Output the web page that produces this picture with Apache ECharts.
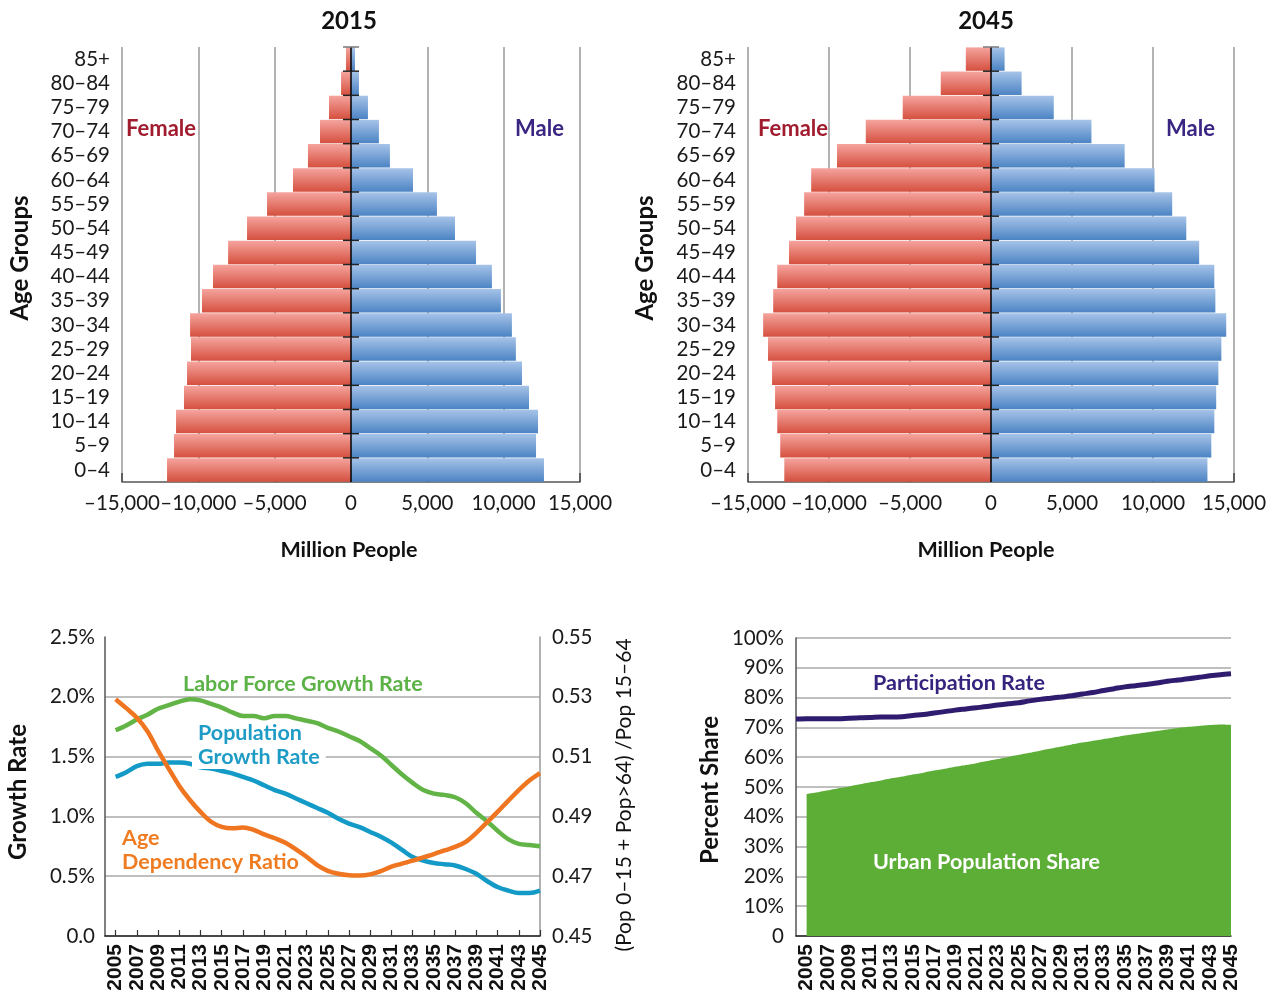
<!DOCTYPE html>
<html>
<head>
<meta charset="utf-8">
<script src="https://cdn.jsdelivr.net/npm/echarts@6/dist/echarts.min.js"></script>
<style>
html,body{margin:0;padding:0;background:#fff;}
#chart{width:1270px;height:998px;}
</style>
</head>
<body>
<div id="chart"></div>
<script>
// ---------- DATA ----------
const ageGroups = ['0–4','5–9','10–14','15–19','20–24','25–29','30–34','35–39','40–44','45–49','50–54','55–59','60–64','65–69','70–74','75–79','80–84','85+'];
const female2015 = [-12050,-11590,-11460,-10940,-10740,-10480,-10540,-9760,-9040,-8050,-6810,-5500,-3800,-2820,-2030,-1440,-650,-330];
const male2015   = [12640,12120,12250,11660,11200,10800,10540,9820,9230,8190,6810,5630,4060,2550,1830,1110,520,260];
const female2045 = [-12760,-13010,-13195,-13330,-13515,-13765,-14065,-13445,-13195,-12470,-12035,-11535,-11100,-9505,-7730,-5450,-3100,-1555];
const male2045   = [13360,13600,13785,13900,14035,14220,14520,13850,13785,12850,12055,11185,10095,8250,6200,3875,1890,840];
const popTicks = [-15000,-10000,-5000,0,5000,10000,15000];

const years = ['2004','2005','2006','2007','2008','2009','2010','2011','2012','2013','2014','2015','2016','2017','2018','2019','2020','2021','2022','2023','2024','2025','2026','2027','2028','2029','2030','2031','2032','2033','2034','2035','2036','2037','2038','2039','2040','2041','2042','2043','2044','2045'];
const laborGrowth = [null,1.72,1.76,1.81,1.85,1.90,1.93,1.96,1.98,1.97,1.94,1.91,1.87,1.84,1.84,1.82,1.84,1.84,1.82,1.80,1.78,1.74,1.71,1.67,1.63,1.57,1.51,1.43,1.35,1.28,1.22,1.19,1.18,1.16,1.11,1.03,0.96,0.88,0.81,0.77,0.76,0.75];
const popGrowth = [null,1.33,1.37,1.42,1.44,1.44,1.45,1.45,1.44,1.41,1.40,1.38,1.36,1.33,1.30,1.26,1.22,1.19,1.15,1.11,1.07,1.03,0.98,0.94,0.91,0.87,0.83,0.78,0.72,0.66,0.63,0.61,0.60,0.59,0.56,0.52,0.46,0.41,0.38,0.36,0.36,0.38];
const ageDependency = [null,0.5292,0.5262,0.5230,0.5185,0.5120,0.5060,0.5002,0.4955,0.4915,0.4882,0.4865,0.4860,0.4863,0.4855,0.4840,0.4827,0.4812,0.4790,0.4765,0.4737,0.4718,0.4708,0.4703,0.4702,0.4706,0.4717,0.4732,0.4742,0.4752,0.4763,0.4774,0.4786,0.4798,0.4815,0.4845,0.4880,0.4915,0.4952,0.4988,0.5020,0.5045];
const participation = [72.8,72.9,72.9,72.9,72.9,73.1,73.2,73.3,73.5,73.5,73.6,74.0,74.3,74.8,75.3,75.8,76.2,76.6,77.0,77.5,77.9,78.3,78.9,79.4,79.8,80.2,80.6,81.2,81.7,82.4,83.0,83.6,84.0,84.4,84.9,85.5,85.9,86.3,86.8,87.3,87.7,88.0];
const urbanShare = [null,47.6,48.2,48.9,49.6,50.2,50.9,51.6,52.2,52.9,53.5,54.2,54.8,55.5,56.1,56.8,57.4,58.0,58.7,59.4,60.1,60.8,61.5,62.2,62.9,63.6,64.3,64.9,65.5,66.1,66.7,67.3,67.8,68.3,68.8,69.3,69.8,70.2,70.5,70.8,71.0,70.9];

// ---------- HELPERS ----------
const FONT = 'Lato';
const TXT = '#1a1a1a';
function fmtPop(v){
  const s = String(Math.abs(v)).replace(/\B(?=(\d{3})+(?!\d))/g, ',');
  return (v < 0 ? '–' : '') + s;
}
const oddIdx = function(i){ return i % 2 === 1; };

function femaleGrad(){ return new echarts.graphic.LinearGradient(0,0,0,1,[{offset:0,color:'#f5a49e'},{offset:1,color:'#d5503f'}]); }
function maleGrad(){ return new echarts.graphic.LinearGradient(0,0,0,1,[{offset:0,color:'#a6c3e8'},{offset:1,color:'#4c84c4'}]); }

function pyrX(gi){
  return {gridIndex:gi, type:'value', min:popTicks[0], max:popTicks[popTicks.length-1], interval:5000,
    axisLine:{show:true, onZero:false, lineStyle:{color:'#555', width:1.5}},
    axisTick:{show:true, inside:true, length:9, lineStyle:{color:'#444', width:1.5}},
    splitLine:{show:true, lineStyle:{color:'#9a9a9a', width:1.5}},
    axisLabel:{formatter:fmtPop, fontFamily:FONT, fontSize:20.5, color:TXT, margin:11, hideOverlap:false}};
}
function pyrY(gi){
  return {gridIndex:gi, type:'category', data:ageGroups,
    axisLine:{show:false, onZero:false}, axisTick:{show:false}, splitLine:{show:false},
    axisLabel:{interval:0, fontFamily:FONT, fontSize:20.5, color:TXT, margin:12}};
}
function centerLine(xi, yi){
  return {type:'custom', xAxisIndex:xi, yAxisIndex:yi, z:5, silent:true,
    data: ageGroups.map(function(a,i){ return [0, i]; }),
    renderItem: function(params, api){
      const i = api.value(1);
      const p = api.coord([0, i]);
      const h = api.size([0, 1])[1];
      const top = p[1] - h/2, bot = p[1] + h/2;
      const last = i === ageGroups.length - 1;
      return {type:'group', children:[
        {type:'line', shape:{x1:p[0], y1:top, x2:p[0], y2:bot}, style:{stroke:'#000', lineWidth:1.5}},
        {type:'line', shape:{x1:p[0]-8, y1:top, x2:p[0]+8, y2:top}, style:{stroke:last?'#777':'#222', lineWidth:1.5}}
      ]};
    }};
}
function pyrBar(data, xi, yi, grad){
  return {type:'bar', xAxisIndex:xi, yAxisIndex:yi, data:data, barGap:'-100%', barCategoryGap:'3%',
    itemStyle:{color:grad}, silent:true};
}
function yearAxis(gi, ticks){
  return {gridIndex:gi, type:'category', data:years, boundaryGap:false,
    axisLine:{show:true, onZero:false, lineStyle:{color:'#222', width:1.5}},
    axisTick:{show:ticks, inside:true, length:6, interval:oddIdx, lineStyle:{color:'#333', width:1.2}},
    splitLine:{show:false},
    axisLabel:{interval:oddIdx, rotate:90, fontFamily:'Liberation Sans', fontWeight:'bold', fontSize:21, color:'#111', margin:8}};
}
function txt(x, y, text, font, color, extra){
  return {type:'text', x:x, y:y, z:100, silent:true,
    style:Object.assign({text:text, font:font, fill:color, align:'left', verticalAlign:'middle'}, extra||{})};
}
function rtxt(x, y, text, font, color){
  return {type:'text', x:x, y:y, rotation:Math.PI/2, z:100, silent:true,
    style:{text:text, font:font, fill:color, align:'center', verticalAlign:'middle'}};
}

const option = {
  animation:false,
  backgroundColor:'#fff',
  grid:[
    {left:122, top:47, width:458, height:435, outerBoundsMode:'none'},
    {left:748, top:47, width:486, height:435, outerBoundsMode:'none'},
    {left:105, top:637, width:435, height:299, outerBoundsMode:'none'},
    {left:796, top:638, width:435, height:298, outerBoundsMode:'none'}
  ],
  xAxis:[ pyrX(0), pyrX(1), yearAxis(2, true), yearAxis(3, false) ],
  yAxis:[
    pyrY(0), pyrY(1),
    {gridIndex:2, type:'value', min:0, max:2.5, interval:0.5,
      axisLine:{show:true, lineStyle:{color:'#555', width:1.5}}, axisTick:{show:false},
      splitLine:{show:true, showMaxLine:false, lineStyle:{color:'#aaa', width:1.5}},
      axisLabel:{formatter:function(v){ return v === 0 ? '0.0' : v.toFixed(1) + '%'; }, fontFamily:FONT, fontSize:20.5, color:TXT, margin:10}},
    {gridIndex:2, type:'value', position:'right', min:0.45, max:0.55, interval:0.02,
      axisLine:{show:true, lineStyle:{color:'#999', width:1.5}}, axisTick:{show:false}, splitLine:{show:false},
      axisLabel:{formatter:function(v){ return v.toFixed(2); }, fontFamily:FONT, fontSize:20.5, color:TXT, margin:12}},
    {gridIndex:3, type:'value', min:0, max:100, interval:10,
      axisLine:{show:true, lineStyle:{color:'#555', width:1.5}}, axisTick:{show:false},
      splitLine:{show:true, lineStyle:{color:'#aaa', width:1.5}},
      axisLabel:{formatter:function(v){ return v === 0 ? '0' : v + '%'; }, fontFamily:FONT, fontSize:20.5, color:TXT, margin:12}}
  ],
  series:[
    pyrBar(female2015, 0, 0, femaleGrad()),
    pyrBar(male2015, 0, 0, maleGrad()),
    centerLine(0, 0),
    pyrBar(female2045, 1, 1, femaleGrad()),
    pyrBar(male2045, 1, 1, maleGrad()),
    centerLine(1, 1),
    {type:'line', name:'Labor Force Growth Rate', xAxisIndex:2, yAxisIndex:2, data:laborGrowth, smooth:0.35, symbol:'none',
      lineStyle:{color:'#63b446', width:4.5}, z:3},
    {type:'line', name:'Population Growth Rate', xAxisIndex:2, yAxisIndex:2, data:popGrowth, smooth:0.35, symbol:'none',
      lineStyle:{color:'#149ac6', width:4.5}, z:4},
    {type:'line', name:'Age Dependency Ratio', xAxisIndex:2, yAxisIndex:3, data:ageDependency, smooth:0.35, symbol:'none',
      lineStyle:{color:'#ef7521', width:4.5}, z:5},
    {type:'line', name:'Urban Population Share', xAxisIndex:3, yAxisIndex:4, data:urbanShare, smooth:0.2, symbol:'none',
      lineStyle:{width:0, color:'#5dae37'}, areaStyle:{color:'#5dae37', opacity:1}, z:2},
    {type:'line', name:'Participation Rate', xAxisIndex:3, yAxisIndex:4, data:participation, smooth:0.3, symbol:'none',
      lineStyle:{color:'#2f1c6e', width:5}, z:4}
  ],
  graphic:[
    txt(349, 21, '2015', 'bold 24px Lato', '#111', {align:'center'}),
    txt(986, 21, '2045', 'bold 24px Lato', '#111', {align:'center'}),
    rtxt(20, 258, 'Age Groups', 'bold 24px Lato', '#111'),
    rtxt(645, 258, 'Age Groups', 'bold 24px Lato', '#111'),
    txt(349, 550, 'Million People', 'bold 21.5px Lato', '#111', {align:'center'}),
    txt(986, 550, 'Million People', 'bold 21.5px Lato', '#111', {align:'center'}),
    txt(126, 129, 'Female', 'bold 22px Lato', '#a01c2e'),
    txt(515, 129, 'Male', 'bold 22px Lato', '#3b2583'),
    txt(758, 129, 'Female', 'bold 22px Lato', '#a01c2e'),
    txt(1166, 129, 'Male', 'bold 22px Lato', '#3b2583'),
    rtxt(18, 792, 'Growth Rate', 'bold 24px Lato', '#111'),
    rtxt(624, 795, '(Pop 0–15 + Pop>64) /Pop 15–64', '21px Lato', '#111'),
    rtxt(710, 790, 'Percent Share', 'bold 24px Lato', '#111'),
    txt(183, 684, 'Labor Force Growth Rate', 'bold 21.5px Lato', '#5cb247'),
    txt(198, 733, 'Population', 'bold 21.5px Lato', '#1e9cc6'),
    txt(192, 757, 'Growth Rate', 'bold 21.5px Lato', '#1e9cc6', {backgroundColor:'#fff', padding:[1,6,1,6]}),
    txt(122, 838, 'Age', 'bold 21.5px Lato', '#f07c22'),
    txt(122, 862, 'Dependency Ratio', 'bold 21.5px Lato', '#f07c22'),
    txt(873, 683, 'Participation Rate', 'bold 21.5px Lato', '#36237d'),
    txt(873, 862, 'Urban Population Share', 'bold 21.5px Lato', '#ffffff')
  ]
};

const chart = echarts.init(document.getElementById('chart'), null, {renderer:'canvas'});
chart.setOption(option);
</script>
</body>
</html>
